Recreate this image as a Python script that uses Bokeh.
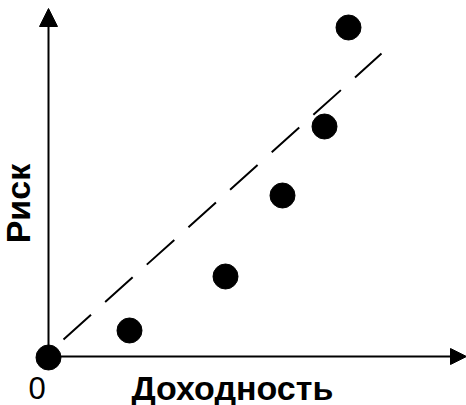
import math
from bokeh.plotting import figure
from bokeh.models import Range1d, Arrow, NormalHead, Label, ColumnDataSource
from bokeh.embed import file_html
from bokeh.resources import INLINE

# Data (arbitrary units)
returns = [0.0, 2.7, 5.9, 7.8, 9.2, 10.0]
risks = [0.0, 0.9, 2.7, 5.4, 7.7, 11.0]
trend_x = [0.5, 11.1]
trend_y = [0.6, 10.13]

x_label = "Доходность"
y_label = "Риск"
origin_label = "0"

W, H = 466, 405
p = figure(width=W, height=H, output_backend="svg", toolbar_location=None,
           x_range=Range1d(-48 / 30, 418 / 30), y_range=Range1d(-48 / 30, 357 / 30),
           min_border=0, x_axis_type=None, y_axis_type=None)
p.grid.visible = False
p.outline_line_color = None
p.background_fill_color = "white"
p.border_fill_color = "white"

# axes with arrows
p.add_layout(Arrow(x_start=0, y_start=0, x_end=0, y_end=349 / 30,
                   line_width=2, line_color="black",
                   end=NormalHead(size=18, fill_color="black", line_color="black")))
p.add_layout(Arrow(x_start=0, y_start=0.033, x_end=418 / 30, y_end=0.033,
                   line_width=2, line_color="black",
                   end=NormalHead(size=16, fill_color="black", line_color="black")))

# trend line
p.line(trend_x, trend_y, line_color="black", line_width=2, line_dash="37 19")

# points
src = ColumnDataSource(dict(x=returns, y=risks))
p.scatter("x", "y", source=src, size=25, fill_color="black", line_color="black")

p.add_layout(Label(x=6.13, y=-1.0, text=x_label, text_font="Liberation Sans",
                   text_font_style="bold", text_font_size="34px",
                   text_align="center", text_baseline="middle", text_color="black"))
p.add_layout(Label(x=-1.03, y=5.13, text=y_label, text_font="Liberation Sans",
                   text_font_style="bold", text_font_size="34px", angle=math.pi / 2,
                   text_align="center", text_baseline="middle", text_color="black"))
p.add_layout(Label(x=-0.383, y=-1.017, text=origin_label, text_font="Liberation Sans",
                   text_font_size="31px", text_align="center",
                   text_baseline="middle", text_color="black"))

open("out.html", "w").write(file_html(p, INLINE))
